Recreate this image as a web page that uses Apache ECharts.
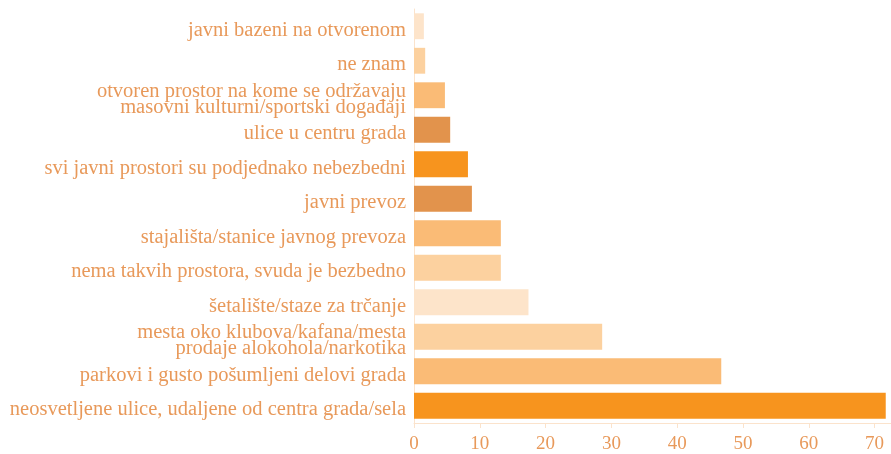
<!DOCTYPE html>
<html>
<head>
<meta charset="utf-8">
<script src="https://cdn.jsdelivr.net/npm/echarts@6/dist/echarts.min.js"></script>
<style>
  html, body { margin: 0; padding: 0; background: #fff; }
  #chart { width: 891px; height: 454px; }
</style>
</head>
<body>
<div id="chart"></div>
<script>
// categories, top to bottom
const categories = [
  'javni bazeni na otvorenom',
  'ne znam',
  'otvoren prostor na kome se održavaju\nmasovni kulturni/sportski događaji',
  'ulice u centru grada',
  'svi javni prostori su podjednako nebezbedni',
  'javni prevoz',
  'stajališta/stanice javnog prevoza',
  'nema takvih prostora, svuda je bezbedno',
  'šetalište/staze za trčanje',
  'mesta oko klubova/kafana/mesta\nprodaje alokohola/narkotika',
  'parkovi i gusto pošumljeni delovi grada',
  'neosvetljene ulice, udaljene od centra grada/sela'
];
const values = [1.5, 1.7, 4.7, 5.5, 8.2, 8.8, 13.2, 13.2, 17.4, 28.6, 46.7, 71.7];
const barColors = [
  '#FDE4CA', '#FCD19F', '#FABB76', '#E2934C', '#F7941E', '#E2934C',
  '#FABB76', '#FCD19F', '#FDE4CA', '#FCD19F', '#FABB76', '#F7941E'
];

const textColor = '#E8995A';
const lineColor = '#FBE3CC';
const fontFamily = '"Liberation Serif", "DejaVu Serif", serif';

const chart = echarts.init(document.getElementById('chart'));

// a thin empty line above each label pushes the text a few px down,
// like the serif font in the original sits
function labelText(v) {
  return '{s| }\n' + v.split('\n').map(l => '{a|' + l + '}').join('\n');
}

chart.setOption({
  animation: false,
  grid: { left: 414, right: 0, top: 9, bottom: 29, containLabel: false },
  xAxis: {
    type: 'value',
    min: 0,
    max: 72.5,
    interval: 10,
    splitLine: { show: false },
    axisLine: { show: true, lineStyle: { color: lineColor, width: 1 } },
    axisTick: { show: true, length: 5, lineStyle: { color: lineColor } },
    axisLabel: {
      showMaxLabel: false,
      color: textColor,
      fontFamily: fontFamily,
      fontSize: 19,
      margin: 12
    }
  },
  yAxis: {
    type: 'category',
    inverse: true,
    data: categories,
    axisLine: { show: true, lineStyle: { color: lineColor, width: 1 } },
    axisTick: { show: false },
    axisLabel: {
      margin: 8,
      align: 'right',
      formatter: labelText,
      rich: {
        a: { color: textColor, fontFamily: fontFamily, fontSize: 20.5, lineHeight: 16 },
        s: { fontSize: 1, lineHeight: 8 }
      }
    }
  },
  series: [{
    type: 'bar',
    data: values.map((v, i) => ({ value: v, itemStyle: { color: barColors[i] } })),
    barCategoryGap: '25%'
  }]
});
</script>
</body>
</html>
